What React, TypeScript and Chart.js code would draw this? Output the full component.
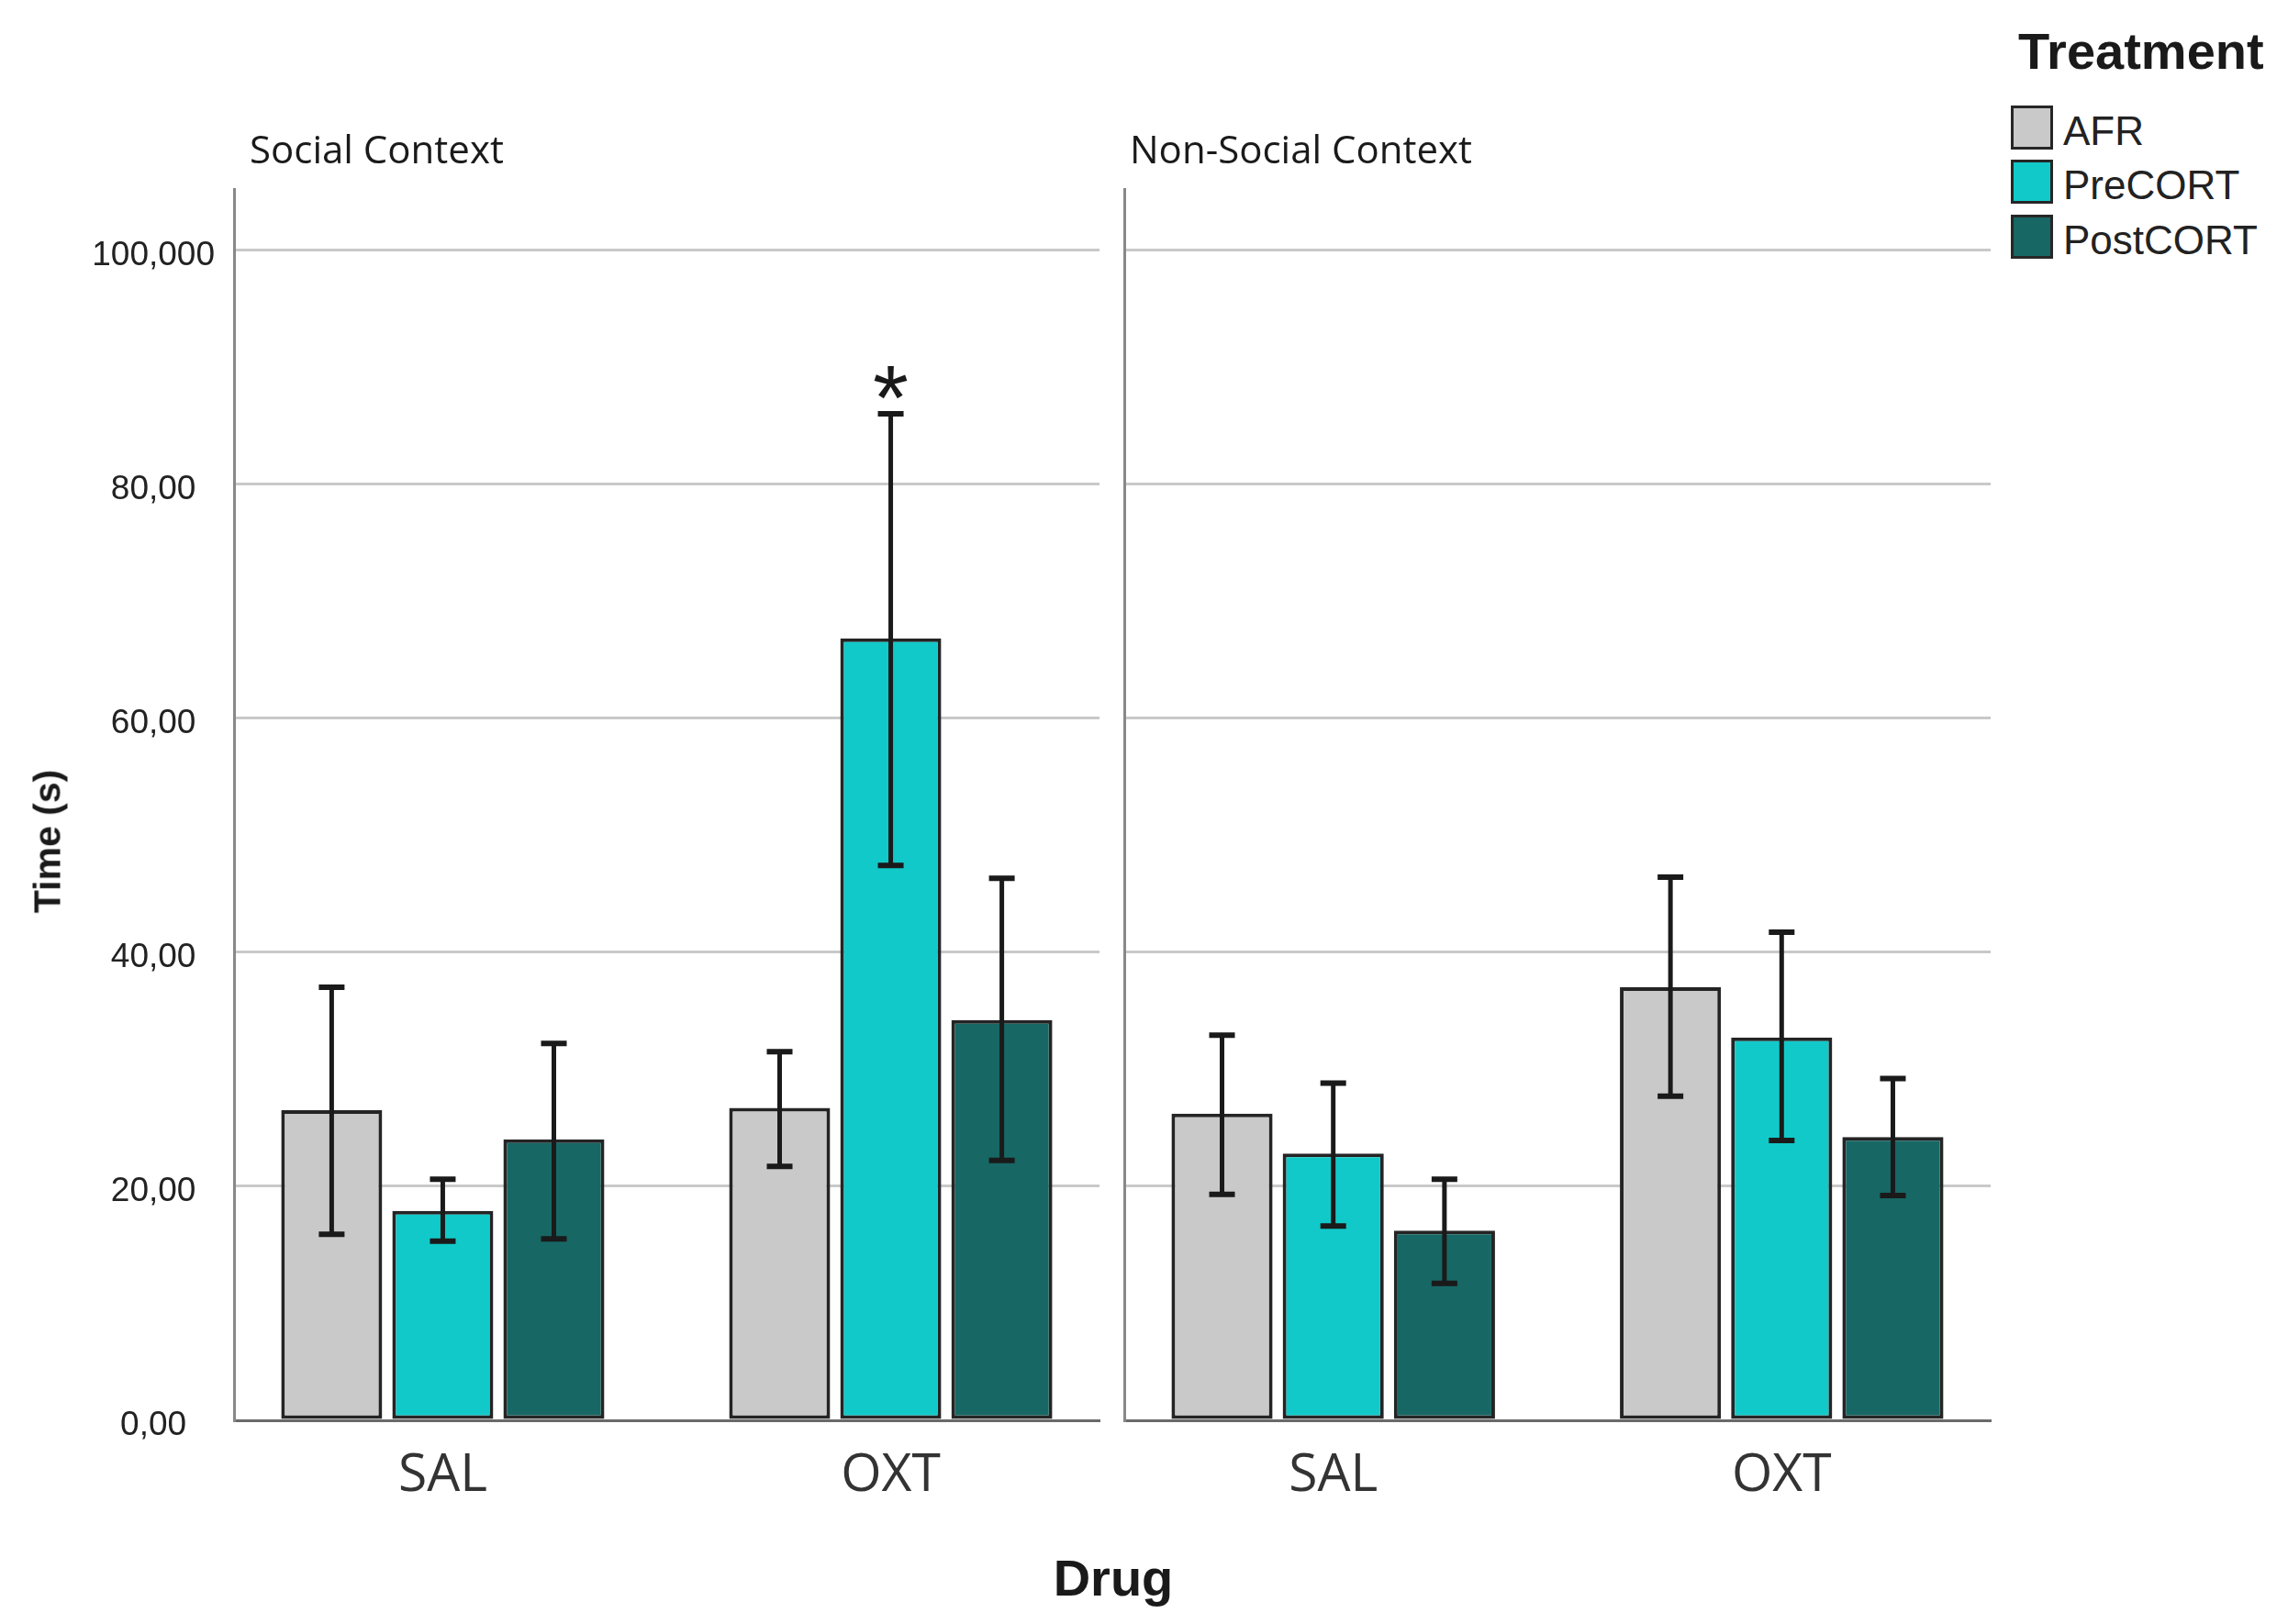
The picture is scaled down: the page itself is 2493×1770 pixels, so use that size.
import React, { useEffect, useRef } from 'react';
import { Chart, registerables } from 'chart.js';

Chart.register(...registerables);

// ---------- data ----------
const drugs = ['SAL', 'OXT'];
const treatments = ['AFR', 'PreCORT', 'PostCORT'];
const contexts = ['Social Context', 'Non-Social Context'];
const yTicks = [0, 20, 40, 60, 80, 100];
const yTickLabels = ['0,00', '20,00', '40,00', '60,00', '80,00', '100,000'];

// Social context (per drug: SAL, OXT)
const socialAFR = [26.5, 26.7];
const socialAFRLow = [15.9, 21.7];
const socialAFRHigh = [37.0, 31.5];
const socialPreCORT = [17.9, 66.8];
const socialPreCORTLow = [15.3, 47.4];
const socialPreCORTHigh = [20.6, 86.0];
const socialPostCORT = [24.0, 34.2];
const socialPostCORTLow = [15.5, 22.2];
const socialPostCORTHigh = [32.2, 46.3];
const socialPreCORTMarks = ['', '*'];

// Non-social context (per drug: SAL, OXT)
const nonSocialAFR = [26.2, 37.0];
const nonSocialAFRLow = [19.3, 27.7];
const nonSocialAFRHigh = [32.9, 46.4];
const nonSocialPreCORT = [22.8, 32.7];
const nonSocialPreCORTLow = [16.6, 23.9];
const nonSocialPreCORTHigh = [28.8, 41.7];
const nonSocialPostCORT = [16.2, 24.2];
const nonSocialPostCORTLow = [11.7, 19.2];
const nonSocialPostCORTHigh = [20.6, 29.2];

const colors = ['#c9c9c9', '#12c9c9', '#176765'];

// ---------- plugins ----------
const errorBarPlugin = {
  id: 'errorBars',
  afterDatasetsDraw(chart: any) {
    const ctx = chart.ctx;
    const yScale = chart.scales.y;
    chart.data.datasets.forEach((ds: any, di: number) => {
      const meta = chart.getDatasetMeta(di);
      meta.data.forEach((el: any, i: number) => {
        const x = el.x;
        const yHi = yScale.getPixelForValue(ds.errHigh[i]);
        const yLo = yScale.getPixelForValue(ds.errLow[i]);
        ctx.save();
        ctx.strokeStyle = '#1a1a1a';
        ctx.lineWidth = 5;
        ctx.beginPath();
        ctx.moveTo(x, yHi);
        ctx.lineTo(x, yLo);
        ctx.stroke();
        ctx.lineWidth = 6;
        const cw = 14;
        ctx.beginPath();
        ctx.moveTo(x - cw, yHi);
        ctx.lineTo(x + cw, yHi);
        ctx.moveTo(x - cw, yLo);
        ctx.lineTo(x + cw, yLo);
        ctx.stroke();
        const mark = ds.marks ? ds.marks[i] : '';
        if (mark) {
          ctx.font = '100px "Liberation Sans", Arial, sans-serif';
          ctx.fillStyle = '#1a1a1a';
          ctx.textAlign = 'center';
          ctx.textBaseline = 'alphabetic';
          const m = ctx.measureText(mark);
          const d = m.actualBoundingBoxDescent || -44;
          ctx.fillText(mark, x, yHi - 16 - d);
        }
        ctx.restore();
      });
    });
  },
};

function makeConfig(
  means: number[][],
  lows: number[][],
  highs: number[][],
  marks: string[][],
  isLeft: boolean
): any {
  return {
    type: 'bar',
    data: {
      labels: drugs,
      datasets: treatments.map((t, k) => ({
        label: t,
        data: means[k],
        errLow: lows[k],
        errHigh: highs[k],
        marks: marks[k],
        backgroundColor: colors[k],
        borderColor: '#242424',
        borderWidth: 4,
        borderSkipped: false,
        categoryPercentage: 0.744,
        barPercentage: 0.909,
      })),
    },
    options: {
      animation: false,
      responsive: false,
      devicePixelRatio: 1,
      layout: { padding: { top: 206, right: 12, left: 0, bottom: 0 } },
      plugins: {
        legend: { display: false },
        tooltip: { enabled: false },
        title: { display: false },
      },
      scales: {
        x: {
          type: 'category',
          z: 1,
          grid: { display: false, drawTicks: false },
          border: { display: true, color: '#6a6a6a', width: 3 },
          ticks: {
            font: { family: '"Open Sans", sans-serif', size: 57 },
            color: '#333333',
            padding: 27,
          },
          afterBuildTicks: (s: any) => {
            // groups sit a little closer to the panel edges than Chart.js's default
            s._startValue = -0.466;
            s._valueRange = 1.932;
          },
          afterFit: (s: any) => {
            s.height = 92;
          },
        },
        y: {
          min: 0,
          max: 105.2,
          afterBuildTicks: (s: any) => {
            s.ticks = yTicks.map((v) => ({ value: v }));
          },
          grid: {
            drawTicks: false,
            lineWidth: 3,
            color: (c: any) =>
              c.tick && c.tick.value === 0 ? 'rgba(0,0,0,0)' : '#c9c9c9',
          },
          border: { display: true, color: '#888888', width: 3 },
          ticks: {
            display: isLeft,
            callback: (v: any) => yTickLabels[yTicks.indexOf(Number(v))],
            font: { family: '"Liberation Sans", Arial, sans-serif', size: 37 },
            color: '#222222',
            crossAlign: 'center',
            padding: 21,
            labelOffset: 6,
          },
          afterFit: (s: any) => {
            s.width = isLeft ? 255 : 15;
          },
        },
      },
    },
    plugins: [errorBarPlugin],
  };
}

function Panel(props: {
  left: number;
  width: number;
  height: number;
  means: number[][];
  lows: number[][];
  highs: number[][];
  marks: string[][];
  isLeft: boolean;
}) {
  const ref = useRef<HTMLCanvasElement>(null);
  useEffect(() => {
    if (!ref.current) return;
    const chart = new Chart(
      ref.current,
      makeConfig(props.means, props.lows, props.highs, props.marks, props.isLeft)
    );
    return () => chart.destroy();
  }, []);
  return (
    <canvas
      ref={ref}
      width={props.width}
      height={props.height}
      style={{
        position: 'absolute',
        left: props.left,
        top: 0,
        width: props.width,
        height: props.height,
      }}
    />
  );
}

const textBase: React.CSSProperties = {
  position: 'absolute',
  whiteSpace: 'nowrap',
  lineHeight: 1,
  color: '#1a1a1a',
};

export default function App() {
  return (
    <div
      style={{
        position: 'absolute',
        left: 0,
        top: 0,
        width: 2493,
        height: 1770,
        background: '#ffffff',
        overflow: 'hidden',
      }}
    >
      <Panel
        left={0}
        width={1210}
        height={1640}
        isLeft={true}
        means={[socialAFR, socialPreCORT, socialPostCORT]}
        lows={[socialAFRLow, socialPreCORTLow, socialPostCORTLow]}
        highs={[socialAFRHigh, socialPreCORTHigh, socialPostCORTHigh]}
        marks={[['', ''], socialPreCORTMarks, ['', '']]}
      />
      <Panel
        left={1210}
        width={971}
        height={1640}
        isLeft={false}
        means={[nonSocialAFR, nonSocialPreCORT, nonSocialPostCORT]}
        lows={[nonSocialAFRLow, nonSocialPreCORTLow, nonSocialPostCORTLow]}
        highs={[nonSocialAFRHigh, nonSocialPreCORTHigh, nonSocialPostCORTHigh]}
        marks={[['', ''], ['', ''], ['', '']]}
      />
      {/* panel titles */}
      <div
        style={{
          ...textBase,
          left: 272,
          top: 141,
          fontFamily: '"Open Sans", sans-serif',
          fontSize: 42,
        }}
      >
        {contexts[0]}
      </div>
      <div
        style={{
          ...textBase,
          left: 1231,
          top: 141,
          fontFamily: '"Open Sans", sans-serif',
          fontSize: 42,
        }}
      >
        {contexts[1]}
      </div>
      {/* y axis title */}
      <div
        style={{
          ...textBase,
          left: 52,
          top: 917,
          fontFamily: '"Liberation Sans", Arial, sans-serif',
          fontWeight: 'bold',
          fontSize: 41,
          transform: 'translate(-50%, -50%) rotate(-90deg)',
        }}
      >
        Time (s)
      </div>
      {/* x axis title */}
      <div
        style={{
          ...textBase,
          left: 1013,
          width: 400,
          textAlign: 'center',
          top: 1692,
          fontFamily: '"Liberation Sans", Arial, sans-serif',
          fontWeight: 'bold',
          fontSize: 56,
        }}
      >
        Drug
      </div>
      {/* legend */}
      <div
        style={{
          ...textBase,
          left: 2199,
          top: 28,
          fontFamily: '"Liberation Sans", Arial, sans-serif',
          fontWeight: 'bold',
          fontSize: 56,
        }}
      >
        Treatment
      </div>
      {treatments.map((t, k) => (
        <div
          key={t}
          style={{
            position: 'absolute',
            left: 2191,
            top: [115, 174, 234][k],
            height: 48,
            display: 'flex',
            alignItems: 'center',
          }}
        >
          <div
            style={{
              width: 46,
              height: 48,
              boxSizing: 'border-box',
              border: '3px solid #262626',
              background: colors[k],
            }}
          />
          <div
            style={{
              marginLeft: 11,
              fontFamily: '"Liberation Sans", Arial, sans-serif',
              fontSize: 44,
              lineHeight: '48px',
              color: '#222222',
              position: 'relative',
              top: 4,
              whiteSpace: 'nowrap',
            }}
          >
            {t}
          </div>
        </div>
      ))}
    </div>
  );
}
